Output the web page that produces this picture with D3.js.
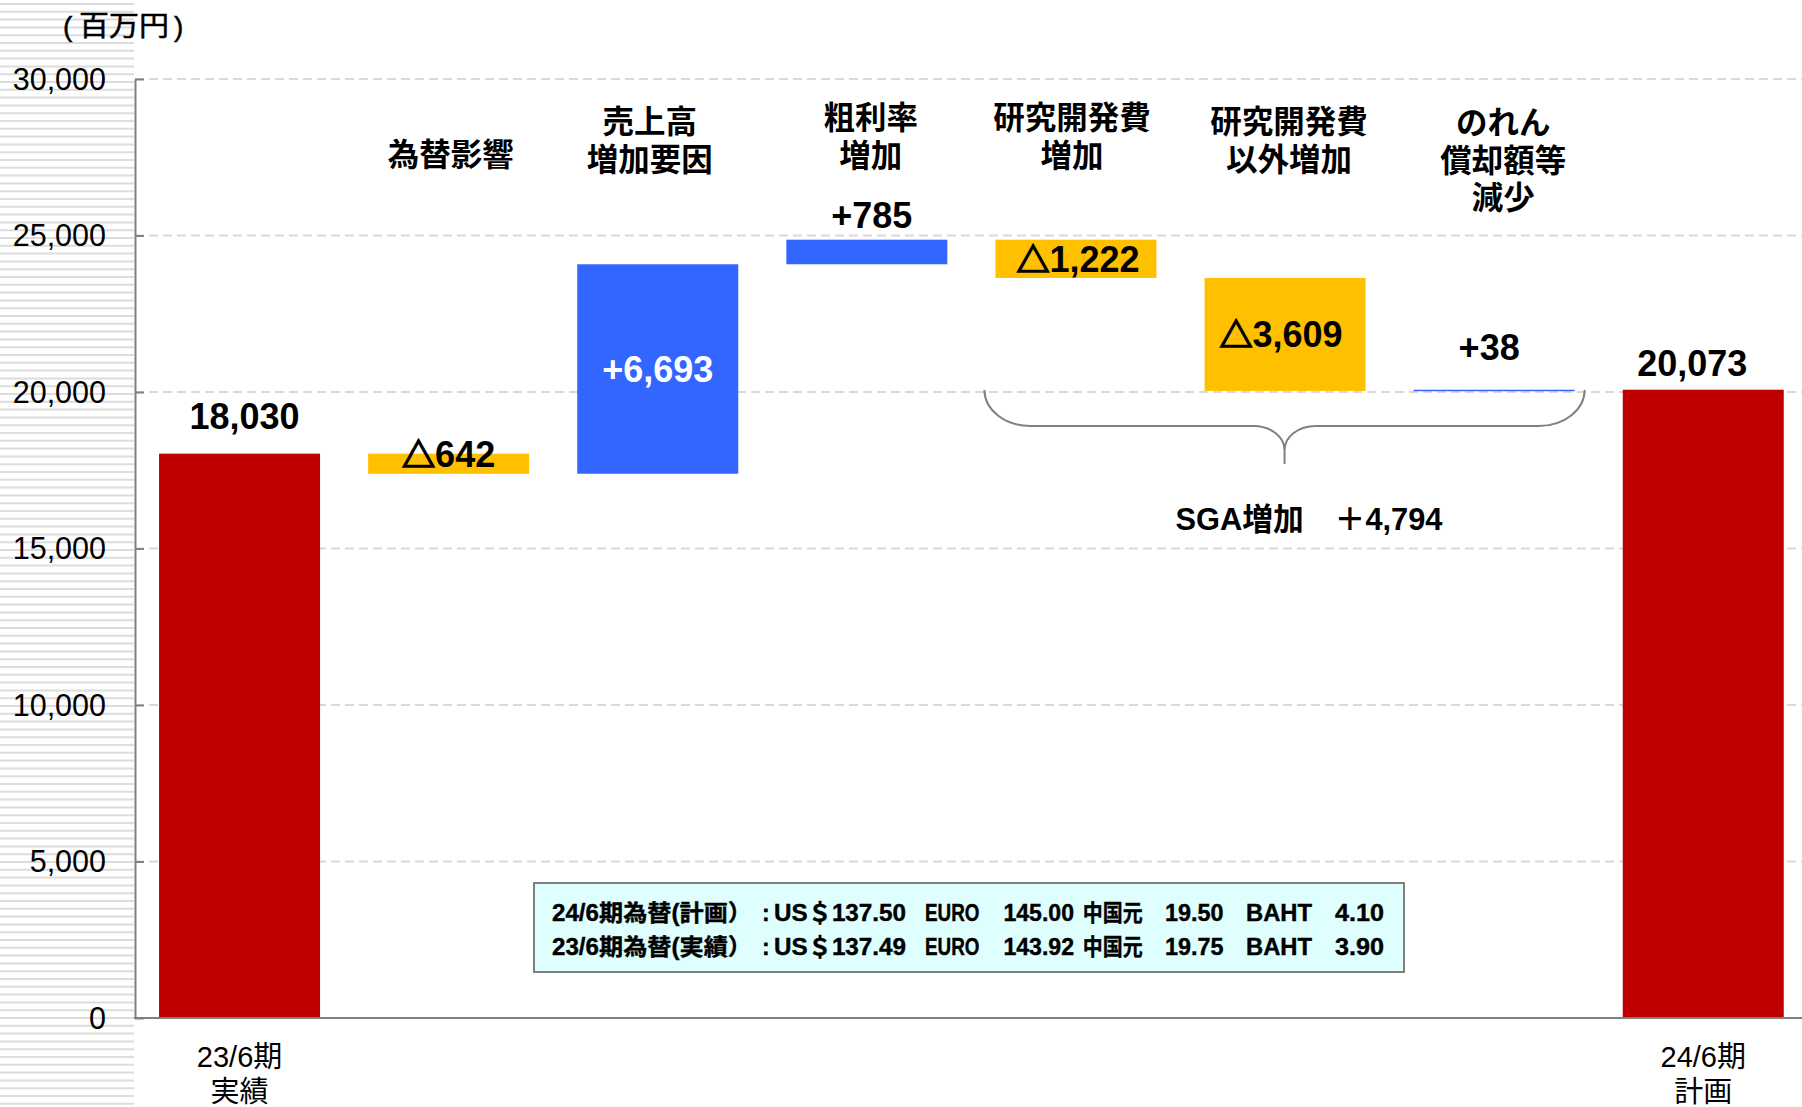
<!DOCTYPE html>
<html>
<head>
<meta charset="utf-8">
<script src="https://cdn.jsdelivr.net/npm/d3@7/dist/d3.min.js"></script>
<style>
  html, body { margin: 0; padding: 0; background: #ffffff; }
  svg { display: block; }
  text { font-family: "Liberation Sans", Arial, "Noto Sans CJK JP", sans-serif; }
</style>
</head>
<body>
<svg id="chart" width="1802" height="1107"></svg>
<script>
// ---------- data ----------
const categories = ['23/6期実績', '為替影響', '売上高増加要因', '粗利率増加', '研究開発費増加', '研究開発費以外増加', 'のれん償却額等減少', '24/6期計画'];
const barTypes   = ['total', 'delta', 'delta', 'delta', 'delta', 'delta', 'delta', 'total'];
const values     = [18030, -642, 6693, 785, -1222, -3609, 38, 20073];
const valueLabels = ['18,030', '△642', '+6,693', '+785', '△1,222', '△3,609', '+38', '20,073'];
const topLabels = [[], ['為替影響'], ['売上高', '増加要因'], ['粗利率', '増加'], ['研究開発費', '増加'], ['研究開発費', '以外増加'], ['のれん', '償却額等', '減少'], []];
const bottomLabels = [['23/6期', '実績'], [], [], [], [], [], [], ['24/6期', '計画']];
const yTicks = [0, 5000, 10000, 15000, 20000, 25000, 30000];
const unitLabel = '百万円';
const sgaLabel = 'SGA増加　＋4,794';
const sgaRange = [4, 6]; // categories covered by the brace
const fxHeaders = ['24/6期為替(計画）', '23/6期為替(実績）'];
const fxUSD  = ['137.50', '137.49'];
const fxEURO = ['145.00', '143.92'];
const fxCNY  = ['19.50', '19.75'];
const fxBAHT = ['4.10', '3.90'];

// ---------- layout / style ----------
const W = 1802, H = 1107;
const plotLeft = 135, plotTop = 79, plotBottom = 1018;
const colors = { total: '#C00000', neg: '#FFC000', pos: '#3366FF' };
const valueLabelLayout = [
  { mode: 'above', dy: 25, dx: 5 },
  { mode: 'start', dx: 0 },
  { mode: 'center', dx: 0 },
  { mode: 'above', dy: 12, dx: 5 },
  { mode: 'center', dx: 2 },
  { mode: 'center', dx: -4 },
  { mode: 'above', dy: 30, dx: -5 },
  { mode: 'above', dy: 14, dx: -11 }
];
const topLabelLayout = [null, { y: 166, dx: 2 }, { y: 133, dx: -8 }, { y: 129, dx: 4 }, { y: 129, dx: -4 }, { y: 133, dx: 4 }, { y: 134, dx: 9 }, null];

// ---------- derived ----------
let run = 0;
const bars = categories.map((c, i) => {
  let start, end;
  if (barTypes[i] === 'total') { start = 0; end = values[i]; run = values[i]; }
  else { start = run; end = run + values[i]; run = end; }
  return { cat: c, i, type: barTypes[i], value: values[i], start, end,
           lo: Math.min(start, end), hi: Math.max(start, end) };
});

const svg = d3.select('#chart');

const x = d3.scaleBand().domain(categories)
  .range([plotLeft, plotLeft + 209.1 * 8])
  .paddingInner(0.23).paddingOuter(0.115);
const y = d3.scaleLinear().domain([0, 30000]).range([plotBottom, plotTop]);

// left striped background
const stripes = svg.append('g');
stripes.selectAll('line').data(d3.range(4, H, 7.8)).join('line')
  .attr('x1', 0).attr('x2', plotLeft - 1)
  .attr('y1', d => d).attr('y2', d => d)
  .attr('stroke', '#dcdcdc').attr('stroke-width', 2);

// gridlines
svg.append('g').selectAll('line').data(yTicks.filter(t => t > 0)).join('line')
  .attr('x1', plotLeft).attr('x2', W)
  .attr('y1', d => y(d)).attr('y2', d => y(d))
  .attr('stroke', '#d9d9d9').attr('stroke-width', 2)
  .attr('stroke-dasharray', '9,5');

// y axis
const yAxis = d3.axisLeft(y).tickValues(yTicks)
  .tickFormat(d3.format(','))
  .tickSizeInner(-9).tickSizeOuter(0).tickPadding(29);
const gy = svg.append('g').attr('transform', `translate(${plotLeft},0)`).call(yAxis);
gy.select('.domain').attr('stroke', '#808080').attr('stroke-width', 2);
gy.selectAll('.tick line').attr('stroke', '#808080').attr('stroke-width', 2);
gy.selectAll('.tick text')
  .attr('font-size', 30.5).attr('fill', '#000').attr('dy', '0.34em');

// bars
svg.append('g').selectAll('rect').data(bars).join('rect')
  .attr('x', d => x(d.cat))
  .attr('width', x.bandwidth())
  .attr('y', d => y(d.hi))
  .attr('height', d => Math.max(1.5, y(d.lo) - y(d.hi)))
  .attr('fill', d => d.type === 'total' ? colors.total : (d.value < 0 ? colors.neg : colors.pos));

// x axis line
svg.append('line')
  .attr('x1', plotLeft - 1).attr('x2', W)
  .attr('y1', y(0)).attr('y2', y(0))
  .attr('stroke', '#808080').attr('stroke-width', 2);

// value labels
const vl = svg.append('g').selectAll('text').data(bars).join('text')
  .attr('x', d => x(d.cat) + x.bandwidth() / 2 + (valueLabelLayout[d.i].dx || 0))
  .attr('y', d => {
    const L = valueLabelLayout[d.i];
    if (L.mode === 'above') return y(d.hi) - L.dy;
    if (L.mode === 'start') return y(d.start) + 13;
    return (y(d.lo) + y(d.hi)) / 2 + 13;
  })
  .attr('text-anchor', 'middle')
  .attr('font-size', 36).attr('font-weight', 'bold')
  .attr('fill', d => (d.type === 'delta' && d.value > 1000) ? '#ffffff' : '#000000');
vl.each(function (d, i) {
  const s = valueLabels[i];
  const el = d3.select(this);
  if (s.startsWith('△')) {
    el.append('tspan').attr('stroke', '#000').attr('stroke-width', 1.6)
      .attr('font-size', 33).text('△');
    el.append('tspan').text(s.slice(1));
  } else {
    el.text(s);
  }
});

// top category labels
const tl = svg.append('g');
topLabels.forEach((lines, i) => {
  const L = topLabelLayout[i];
  if (!L) return;
  const cx = x(categories[i]) + x.bandwidth() / 2 + L.dx;
  lines.forEach((ln, k) => {
    tl.append('text')
      .attr('x', cx).attr('y', L.y + k * 37.5)
      .attr('text-anchor', 'middle')
      .attr('font-size', 31.5).attr('font-weight', 'bold').attr('fill', '#000')
      .text(ln);
  });
});

// bottom category labels
const bl = svg.append('g');
bottomLabels.forEach((lines, i) => {
  const cx = x(categories[i]) + x.bandwidth() / 2;
  lines.forEach((ln, k) => {
    bl.append('text')
      .attr('x', cx).attr('y', 1067 + k * 35)
      .attr('text-anchor', 'middle')
      .attr('font-size', 29).attr('fill', '#000')
      .text(ln);
  });
});

// unit label: "(" 百万円 ")"
const ul = svg.append('g').attr('font-size', 28).attr('fill', '#000')
  .attr('stroke', '#000').attr('stroke-width', 0.5);
ul.append('text').attr('x', 63).attr('y', 36).text('(');
ul.append('text').attr('x', 79).attr('y', 36)
  .attr('textLength', 90).attr('lengthAdjust', 'spacingAndGlyphs')
  .text(unitLabel);
ul.append('text').attr('x', 174).attr('y', 36).text(')');

// brace
const bx0 = x(categories[sgaRange[0]]) - 11;
const bx1 = x(categories[sgaRange[1]]) + x.bandwidth() + 10;
const bTop = y(20000) - 2;
const bMid = 426, bTip = 464;
const bc = (bx0 + bx1) / 2;
const bracePath =
  `M${bx0},${bTop} A46,${bMid - bTop} 0 0 0 ${bx0 + 46},${bMid} L${bc - 31},${bMid} A31,24 0 0 1 ${bc},${bMid + 24} L${bc},${bTip} ` +
  `M${bc},${bMid + 24} A31,24 0 0 1 ${bc + 31},${bMid} L${bx1 - 46},${bMid} A46,${bMid - bTop} 0 0 0 ${bx1},${bTop}`;
svg.append('path').attr('d', bracePath)
  .attr('fill', 'none').attr('stroke', '#808080').attr('stroke-width', 2);

svg.append('text').attr('x', 1309).attr('y', 530)
  .attr('text-anchor', 'middle')
  .attr('font-size', 31).attr('font-weight', 'bold').attr('fill', '#000')
  .attr('textLength', 267).attr('lengthAdjust', 'spacingAndGlyphs')
  .text(sgaLabel);

// FX info box
const box = svg.append('g');
box.append('rect').attr('x', 534).attr('y', 883).attr('width', 870).attr('height', 89)
  .attr('fill', '#DFFFFF').attr('stroke', '#7f7f7f').attr('stroke-width', 2);
const fxCols = [
  { x: 552,   w: 200,  t: r => fxHeaders[r] },
  { x: 762,   w: null, t: r => ':' },
  { x: 774,   w: 132,  t: r => 'US＄' + fxUSD[r] },
  { x: 925,   w: 54.5, t: r => 'EURO' },
  { x: 1003.4, w: 70.6, t: r => fxEURO[r] },
  { x: 1082.7, w: 60,  t: r => '中国元' },
  { x: 1165,  w: 58.5, t: r => fxCNY[r] },
  { x: 1246,  w: 66,   t: r => 'BAHT' },
  { x: 1335,  w: 49,   t: r => fxBAHT[r] }
];
[0, 1].forEach(r => {
  fxCols.forEach(c => {
    const t = box.append('text')
      .attr('x', c.x).attr('y', 921 + r * 34)
      .attr('font-size', 23).attr('font-weight', 'bold').attr('fill', '#000')
      .attr('stroke', '#000').attr('stroke-width', 0.4)
      .text(c.t(r));
    if (c.w) t.attr('textLength', c.w).attr('lengthAdjust', 'spacingAndGlyphs');
  });
});
</script>
</body>
</html>
